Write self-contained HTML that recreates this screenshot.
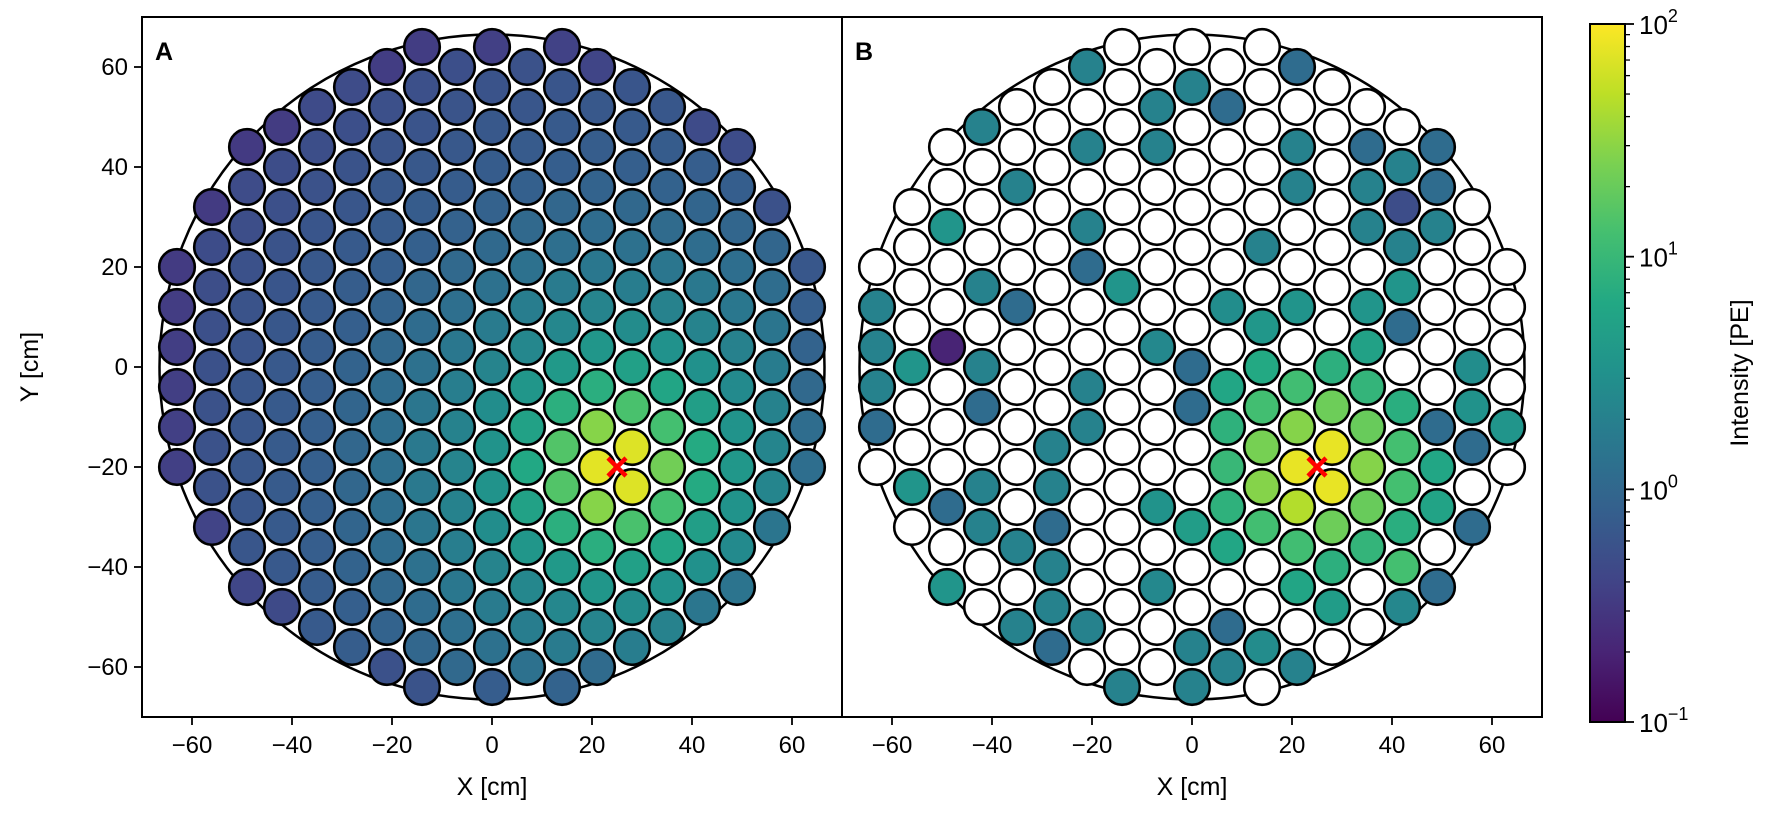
<!DOCTYPE html>
<html><head><meta charset="utf-8">
<style>
html,body{margin:0;padding:0;background:#fff;}
svg text{font-family:"Liberation Sans","DejaVu Sans",sans-serif;}
</style></head>
<body>
<svg id="s" width="1772" height="818" viewBox="0 0 1772 818" xmlns="http://www.w3.org/2000/svg">
<defs>
<linearGradient id="vg" x1="0" y1="1" x2="0" y2="0">
<stop offset="0" stop-color="#440154"/><stop offset="0.1" stop-color="#482475"/>
<stop offset="0.2" stop-color="#414487"/><stop offset="0.3" stop-color="#355f8d"/>
<stop offset="0.4" stop-color="#2a788e"/><stop offset="0.5" stop-color="#21918c"/>
<stop offset="0.6" stop-color="#22a884"/><stop offset="0.7" stop-color="#44bf70"/>
<stop offset="0.8" stop-color="#7ad151"/><stop offset="0.9" stop-color="#bddf26"/>
<stop offset="1" stop-color="#fde725"/>
</linearGradient>
</defs>
<g id="g"></g>
</svg>
<script>
var V=["#440154","#482475","#414487","#355f8d","#2a788e","#21918c","#22a884","#44bf70","#7ad151","#bddf26","#fde725"];
function hx(h){return [parseInt(h.substr(1,2),16),parseInt(h.substr(3,2),16),parseInt(h.substr(5,2),16)];}
function vir(t){t=Math.max(0,Math.min(1,t));var f=t*10,i=Math.min(9,Math.floor(f)),u=f-i;var a=hx(V[i]),b=hx(V[i+1]);
return "rgb("+a.map(function(v,k){return Math.round(v+(b[k]-v)*u)}).join(",")+")";}
var D=[[0,2],[5,1.85],[9,1.45],[12,1.15],[16,0.9],[20,0.7],[30,0.38],[45,0.1],[60,-0.1],[90,-0.3],[110,-0.4]];
function model(x,y){var d=Math.hypot(x-25,y+20),v=D[D.length-1][1];
for(var i=0;i<D.length-1;i++){if(d<=D[i+1][0]){var u=(d-D[i][0])/(D[i+1][0]-D[i][0]);v=D[i][1]+(D[i+1][1]-D[i][1])*u;break;}}
if(Math.hypot(x,y)>63)v-=0.15;return v;}
var B="-21,60;21,60b;0,56;-7,52;7,52b;-42,48;-21,44;-7,44;21,44;35,44b;49,44b;-35,36;21,36;35,36;42,40;49,36b;-49,28T;-21,28;35,28;42,32d;49,28;14,24;42,24;-21,20b;-42,16;-14,16T;42,16T;-63,12;-35,12b;7,12;21,12;35,12T;14,8;42,8b;-63,4;-49,4p;-7,4;35,4;-56,0T;-42,0;0,0b;14,0;28,0;56,0;-63,-4;-21,-4;7,-4;21,-4;35,-4;-42,-8b;0,-8b;14,-8;28,-8;42,-8;56,-8;-63,-12b;-21,-12;7,-12;21,-12l;35,-12;49,-12b;63,-12T;-28,-16;14,-16;28,-16y;42,-16g;56,-16b;7,-20;21,-20y;35,-20l;49,-20;-56,-24T;-42,-24;-28,-24;14,-24l;28,-24y;42,-24g;-49,-28b;-7,-28;7,-28;21,-28;35,-28;49,-28;-42,-32;-28,-32b;0,-32;14,-32;28,-32;42,-32;56,-32b;-35,-36;7,-36;21,-36;35,-36;-28,-40;28,-40;42,-40g;-49,-44T;-7,-44;21,-44;49,-44b;-28,-48;28,-48;42,-48;-35,-52;-21,-52;7,-52b;-28,-56b;0,-56;14,-56;-14,-64;0,-64;7,-60;21,-60";
var CODE={b:0.05,d:-0.3,p:-0.7,T:0.55,g:1.1,l:1.45,y:1.9};
var bm={};B.split(";").forEach(function(s){var m=s.match(/^(-?\d+),(-?\d+)([a-zA-Z]?)$/);bm[m[1]+","+m[2]]=m[3]||"c";});
var g=document.getElementById("g"),h="";
var S=5,CY=367,T=17,BOT=717;
function tvir(lg){return vir((lg+1)/3);}
function panel(x0,isB){var cx=x0+350;
h+='<circle cx="'+cx+'" cy="'+CY+'" r="332.5" fill="none" stroke="#000" stroke-width="2.5"/>';
for(var X=-63;X<=63;X+=7){var odd=((X/7)%2!==0);for(var Y=-68;Y<=68;Y+=4){var ok=odd?(((Y%8)+8)%8===4):(((Y%8)+8)%8===0);if(!ok)continue;
if(Math.hypot(X,Y)>66.3)continue;var col;
if(!isB){col=tvir(model(X,Y));}else{var c=bm[X+","+Y];if(!c)col="#fff";else if(c==="c")col=tvir(Math.max(0.32,model(X,Y)+0.2));else col=tvir(CODE[c]);}
h+='<circle cx="'+(cx+X*S)+'" cy="'+(CY-Y*S)+'" r="17.8" fill="'+col+'" stroke="#000" stroke-width="2.6"/>';}}
var mx=cx+25*S,my=CY+20*S;
h+='<path d="M'+(mx-9)+' '+(my-9)+'L'+(mx+9)+' '+(my+9)+'M'+(mx-9)+' '+(my+9)+'L'+(mx+9)+' '+(my-9)+'" stroke="#ff0000" stroke-width="4.5" stroke-linecap="butt"/>';
for(var v=-60;v<=60;v+=20){var px=cx+v*S;h+='<line x1="'+px+'" y1="'+BOT+'" x2="'+px+'" y2="'+(BOT+8)+'" stroke="#000" stroke-width="1.8"/>';
h+='<text x="'+px+'" y="'+(BOT+36)+'" font-size="24" text-anchor="middle">'+(v<0?"\u2212"+(-v):v)+'</text>';}
h+='<text x="'+cx+'" y="795" font-size="25" text-anchor="middle">X [cm]</text>';
h+='<rect x="'+x0+'" y="'+T+'" width="700" height="700" fill="none" stroke="#000" stroke-width="2"/>';
h+='<text x="'+(x0+13)+'" y="60" font-size="25" font-weight="bold">'+(isB?"B":"A")+'</text>';}
panel(142,false);panel(842,true);
for(var v=-60;v<=60;v+=20){var py=CY-v*S;h+='<line x1="134" y1="'+py+'" x2="142" y2="'+py+'" stroke="#000" stroke-width="1.8"/>';
h+='<text x="128" y="'+(py+8)+'" font-size="24" text-anchor="end">'+(v<0?"\u2212"+(-v):v)+'</text>';}
h+='<text transform="translate(38,367) rotate(-90)" font-size="25" text-anchor="middle">Y [cm]</text>';
var cx0=1590,cw=35,ct=24,cb=722,dec=(cb-ct)/3;
h+='<rect x="'+cx0+'" y="'+ct+'" width="'+cw+'" height="'+(cb-ct)+'" fill="url(#vg)" stroke="#000" stroke-width="2"/>';
for(var d=0;d<3;d++){for(var k=2;k<=9;k++){var y=cb-(d+Math.log10(k))*dec;h+='<line x1="'+(cx0+cw)+'" y1="'+y+'" x2="'+(cx0+cw+5)+'" y2="'+y+'" stroke="#000" stroke-width="1.3"/>';}}
var lab=["\u22121","0","1","2"];
for(var d=0;d<=3;d++){var y=cb-d*dec;h+='<line x1="'+(cx0+cw)+'" y1="'+y+'" x2="'+(cx0+cw+9)+'" y2="'+y+'" stroke="#000" stroke-width="1.8"/>';
h+='<text x="'+(cx0+cw+14)+'" y="'+(y+10)+'" font-size="26">10<tspan dy="-12" font-size="18">'+lab[d]+'</tspan></text>';}
h+='<text transform="translate(1748,373) rotate(-90)" font-size="25" text-anchor="middle">Intensity [PE]</text>';
g.innerHTML=h;
</script>
</body></html>
